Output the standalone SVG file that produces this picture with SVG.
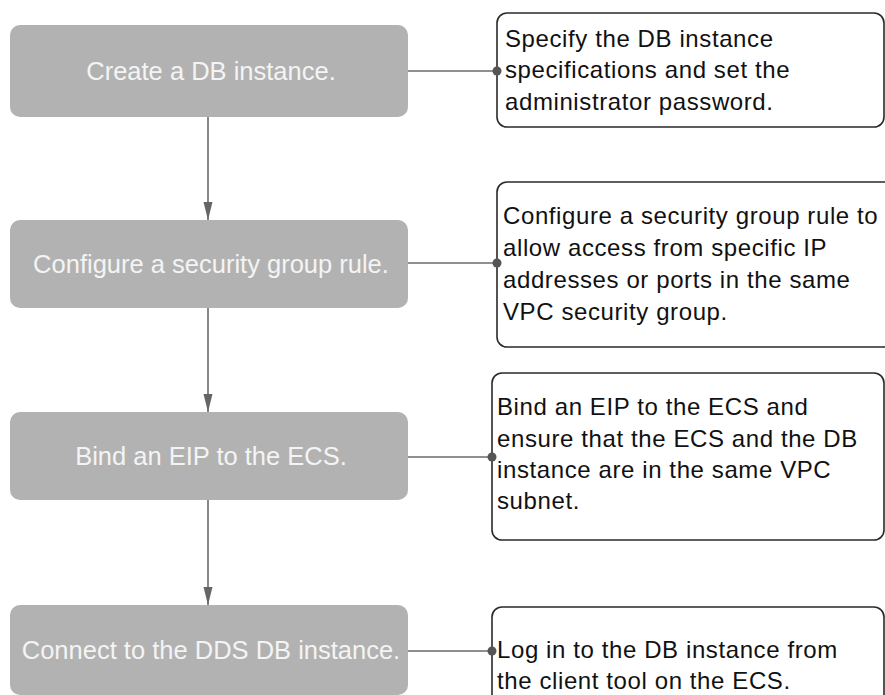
<svg xmlns="http://www.w3.org/2000/svg" width="885" height="695" viewBox="0 0 885 695">
<style>
.step rect{fill:#b2b2b2;stroke:none}
.step text{font-family:"Liberation Sans",Arial,sans-serif;font-size:25.5px;fill:#f4f4f4;text-anchor:middle}
.note rect{fill:#ffffff;stroke:#2a2a2a;stroke-width:1.6}
.note text{font-family:"Liberation Sans",Arial,sans-serif;font-size:24px;fill:#111111;letter-spacing:0.6px}
.conn line{stroke:#6a6a6a;stroke-width:1.6;fill:none}
.conn circle{fill:#555555}
</style>
<defs>
<marker id="arr" viewBox="0 0 18 12" refX="18" refY="6" markerWidth="18" markerHeight="12" markerUnits="userSpaceOnUse" orient="auto">
<path d="M0,1.5 L18,6 L0,10.5 z" fill="#666666"/>
</marker>
</defs>
<rect width="885" height="695" fill="#ffffff"/>
<g class="step" id="step1">
<rect x="10" y="25" width="398" height="92" rx="10"/>
<text x="211" y="80">Create a DB instance.</text>
</g>
<g class="step" id="step2">
<rect x="10" y="220" width="398" height="88" rx="10"/>
<text x="211" y="273">Configure a security group rule.</text>
</g>
<g class="step" id="step3">
<rect x="10" y="412" width="398" height="88" rx="10"/>
<text x="211" y="465">Bind an EIP to the ECS.</text>
</g>
<g class="step" id="step4">
<rect x="10" y="605" width="398" height="90" rx="10"/>
<text x="211" y="659">Connect to the DDS DB instance.</text>
</g>
<g class="note" id="note1">
<rect x="497" y="13" width="387" height="114" rx="10"/>
<text x="505" y="47">Specify the DB instance</text>
<text x="505" y="78">specifications and set the</text>
<text x="505" y="110">administrator password.</text>
</g>
<g class="note" id="note2">
<rect x="497" y="182" width="400" height="165" rx="10"/>
<text x="503" y="224">Configure a security group rule to</text>
<text x="503" y="256">allow access from specific IP</text>
<text x="503" y="288">addresses or ports in the same</text>
<text x="503" y="320">VPC security group.</text>
</g>
<g class="note" id="note3">
<rect x="492" y="373" width="392" height="167" rx="10"/>
<text x="497" y="415">Bind an EIP to the ECS and</text>
<text x="497" y="447">ensure that the ECS and the DB</text>
<text x="497" y="478">instance are in the same VPC</text>
<text x="497" y="509">subnet.</text>
</g>
<g class="note" id="note4">
<rect x="492" y="607" width="392" height="110" rx="10"/>
<text x="497" y="658">Log in to the DB instance from</text>
<text x="497" y="689">the client tool on the ECS.</text>
</g>
<g class="conn" id="connectors">
<line x1="208" y1="117" x2="208" y2="220" marker-end="url(#arr)"/>
<line x1="208" y1="308" x2="208" y2="412" marker-end="url(#arr)"/>
<line x1="208" y1="500" x2="208" y2="605" marker-end="url(#arr)"/>
<line x1="408" y1="71" x2="497" y2="71"/>
<circle cx="497" cy="71" r="4.5"/>
<line x1="408" y1="263" x2="497" y2="263"/>
<circle cx="497" cy="263" r="4.5"/>
<line x1="408" y1="457" x2="492" y2="457"/>
<circle cx="492" cy="457" r="4.5"/>
<line x1="408" y1="651" x2="492" y2="651"/>
<circle cx="492" cy="651" r="4.5"/>
</g>
</svg>
